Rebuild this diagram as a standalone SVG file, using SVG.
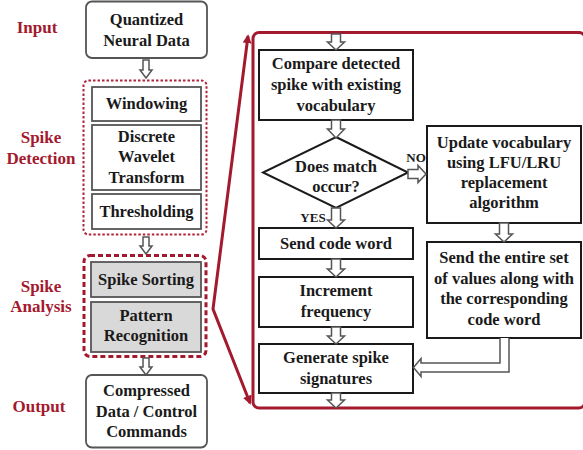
<svg xmlns="http://www.w3.org/2000/svg" width="583" height="450" viewBox="0 0 583 450">
  <defs>
    <style>
      text { font-family: 'Liberation Serif', 'DejaVu Serif', serif; font-weight: bold; text-anchor: middle; fill: #1a1a1a; }
      .t { font-size: 16.5px; }
      .lbl { font-size: 17px; fill: #a3192e; }
      .small { font-size: 13px; }
      .lbox { fill: #ffffff; stroke: #555555; stroke-width: 1.8; }
      .gbox { fill: #d9d9d9; stroke: #555555; stroke-width: 1.8; }
      .rbox { fill: #ffffff; stroke: #1a1a1a; stroke-width: 2; }
      .harrow { fill: #ffffff; stroke: #555555; stroke-width: 1.5; stroke-linejoin: miter; }
      .redline { fill: none; stroke: #a3192e; stroke-width: 3; }
    </style>
    <marker id="redhead" viewBox="0 0 10 10" refX="8" refY="5" markerWidth="3" markerHeight="3" orient="auto-start-reverse" markerUnits="strokeWidth">
      <path d="M0,0 L10,5 L0,10 Z" fill="#a3192e"/>
    </marker>
  </defs>

  <!-- stage labels -->
  <g id="labels">
    <text class="lbl" x="37" y="33">Input</text>
    <text class="lbl" x="41" y="143">Spike</text>
    <text class="lbl" x="41" y="164">Detection</text>
    <text class="lbl" x="41" y="292">Spike</text>
    <text class="lbl" x="41" y="312">Analysis</text>
    <text class="lbl" x="39" y="412">Output</text>
  </g>

  <!-- left pipeline -->
  <g id="input">
    <rect class="lbox" x="86" y="1.5" width="121" height="56.5" rx="6"/>
    <text class="t" x="146.5" y="25">Quantized</text>
    <text class="t" x="146.5" y="46">Neural Data</text>
  </g>

  <g id="spike-detection">
    <rect x="83.5" y="80.5" width="123" height="154" rx="5" fill="none" stroke="#b0243a" stroke-width="2" stroke-dasharray="2.5 2"/>
    <g id="windowing">
      <rect class="lbox" x="92" y="87" width="109" height="34"/>
      <text class="t" x="146.5" y="109">Windowing</text>
    </g>
    <g id="dwt">
      <rect class="lbox" x="92" y="125" width="109" height="65"/>
      <text class="t" x="146.5" y="142">Discrete</text>
      <text class="t" x="146.5" y="162">Wavelet</text>
      <text class="t" x="146.5" y="183">Transform</text>
    </g>
    <g id="thresholding">
      <rect class="lbox" x="92" y="194" width="109" height="35"/>
      <text class="t" x="146.5" y="217">Thresholding</text>
    </g>
  </g>

  <g id="spike-analysis">
    <rect x="84" y="255.5" width="122" height="101" rx="6" fill="none" stroke="#a3192e" stroke-width="3" stroke-dasharray="5 3"/>
    <g id="spike-sorting">
      <rect class="gbox" x="91" y="262" width="110" height="35"/>
      <text class="t" x="146" y="285">Spike Sorting</text>
    </g>
    <g id="pattern-recognition">
      <rect class="gbox" x="91" y="302" width="110" height="50"/>
      <text class="t" x="146" y="321">Pattern</text>
      <text class="t" x="146" y="341">Recognition</text>
    </g>
  </g>

  <g id="output">
    <rect class="lbox" x="86" y="375" width="121" height="72.5" rx="6"/>
    <text class="t" x="146.5" y="396">Compressed</text>
    <text class="t" x="146.5" y="417">Data / Control</text>
    <text class="t" x="146.5" y="437">Commands</text>
  </g>

  <!-- right detail panel -->
  <g id="detail-frame">
    <rect x="253" y="32.5" width="332" height="375.5" rx="6" fill="none" stroke="#a3192e" stroke-width="3"/>
  </g>

  <g id="compare">
    <rect class="rbox" x="259" y="50" width="154" height="70"/>
    <text class="t" x="336" y="69">Compare detected</text>
    <text class="t" x="336" y="90">spike with existing</text>
    <text class="t" x="336" y="111">vocabulary</text>
  </g>

  <g id="match">
    <polygon class="rbox" points="336,137 408,172.5 336,208 263,172.5"/>
    <text class="t" x="336" y="172">Does match</text>
    <text class="t" x="336" y="192">occur?</text>
  </g>

  <g id="update">
    <rect class="rbox" x="427" y="126" width="154" height="97"/>
    <text class="t" x="504" y="148">Update vocabulary</text>
    <text class="t" x="504" y="168">using LFU/LRU</text>
    <text class="t" x="504" y="188">replacement</text>
    <text class="t" x="504" y="208">algorithm</text>
  </g>

  <g id="send-code">
    <rect class="rbox" x="259" y="228" width="154" height="31"/>
    <text class="t" x="336" y="249">Send code word</text>
  </g>

  <g id="increment">
    <rect class="rbox" x="259" y="277" width="154" height="50"/>
    <text class="t" x="336" y="296">Increment</text>
    <text class="t" x="336" y="317">frequency</text>
  </g>

  <g id="generate">
    <rect class="rbox" x="259" y="344" width="154" height="49"/>
    <text class="t" x="336" y="363">Generate spike</text>
    <text class="t" x="336" y="384">signatures</text>
  </g>

  <g id="send-entire">
    <rect class="rbox" x="427" y="242" width="154" height="96"/>
    <text class="t" x="504" y="263">Send the entire set</text>
    <text class="t" x="504" y="284">of values along with</text>
    <text class="t" x="504" y="304">the corresponding</text>
    <text class="t" x="504" y="325">code word</text>
  </g>

  <!-- connectors -->
  <g id="connectors">
    <!-- left column hollow arrows -->
    <path class="harrow" d="M143,60 H149 V70 H152 L146,78 L140,70 H143 Z"/>
    <path class="harrow" d="M143,237 H149 V246 H152 L146,254 L140,246 H143 Z"/>
    <path class="harrow" d="M143,358 H149 V367 H152 L146,375 L140,367 H143 Z"/>

    <!-- right column hollow arrows -->
    <path class="harrow" d="M331.5,34 H340.5 V42 H344.5 L336,50 L327.5,42 H331.5 Z"/>
    <path class="harrow" d="M331.5,120 H340.5 V129 H344.5 L336,138 L327.5,129 H331.5 Z"/>
    <path class="harrow" d="M331.5,208 H340.5 V220 H344.5 L336,228 L327.5,220 H331.5 Z"/>
    <path class="harrow" d="M331.5,259 H340.5 V269 H344.5 L336,277 L327.5,269 H331.5 Z"/>
    <path class="harrow" d="M331.5,327 H340.5 V336 H344.5 L336,344 L327.5,336 H331.5 Z"/>
    <path class="harrow" d="M331.5,393 H340.5 V400 H344.5 L336,408 L327.5,400 H331.5 Z"/>
    <path class="harrow" d="M499.5,223 H508.5 V234 H512.5 L504,242 L495.5,234 H499.5 Z"/>

    <!-- NO branch -->
    <path class="harrow" d="M408,169.5 H418 V165.5 L426,174 L418,182.5 V178.5 H408 Z"/>
    <text class="small" x="416" y="162">NO</text>
    <!-- YES branch -->
    <text class="small" x="313" y="222">YES</text>

    <!-- elbow from send-entire to generate -->
    <path class="harrow" d="M500,338 V363 H421 V358.5 L413.5,367.5 L421,376.5 V372 H509 V338"/>

    <!-- zoom callout -->
    <polyline class="redline" points="248,36 213,309 250,403" marker-start="url(#redhead)" marker-end="url(#redhead)"/>
  </g>
</svg>
